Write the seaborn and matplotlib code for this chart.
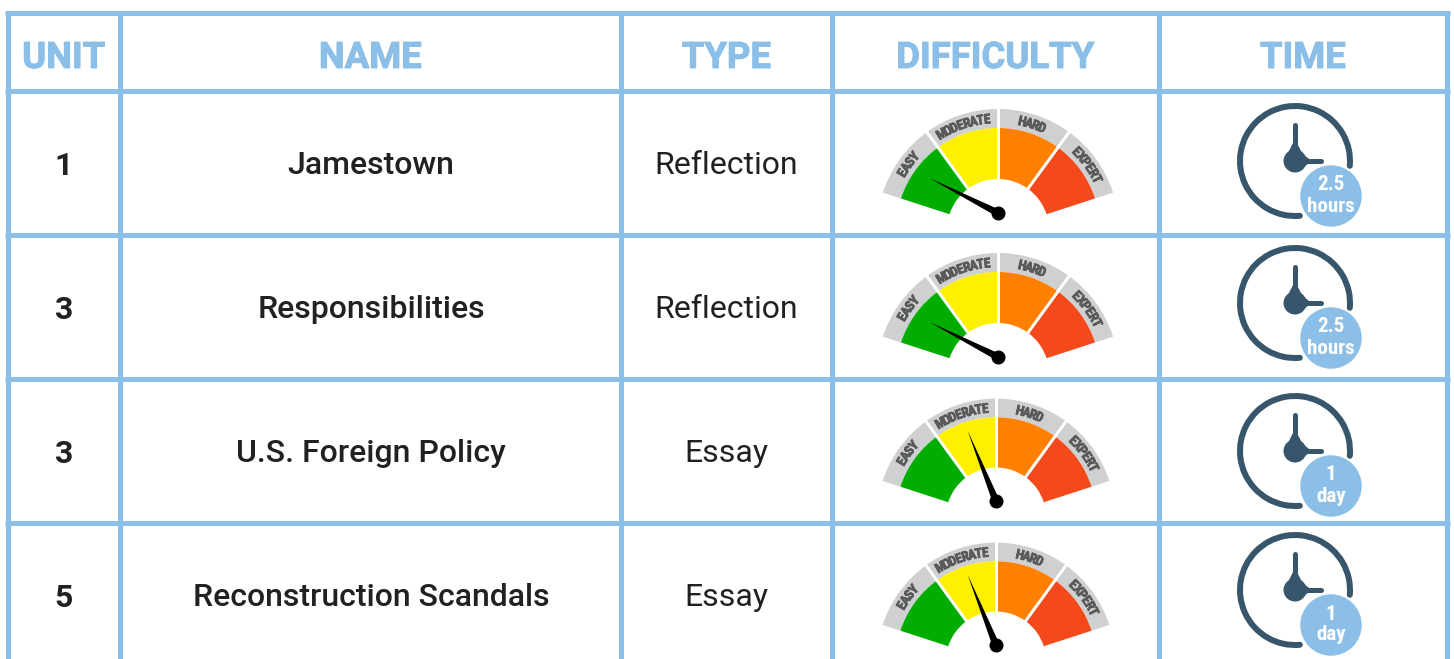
import numpy as np
import matplotlib
matplotlib.use("Agg")
import matplotlib.pyplot as plt
from matplotlib.patches import Wedge, Circle, Arc
from matplotlib import patheffects
import seaborn as sns

# table content
columns = ["UNIT", "NAME", "TYPE", "DIFFICULTY", "TIME"]
units = ["1", "3", "3", "5"]
names = ["Jamestown", "Responsibilities", "U.S. Foreign Policy", "Reconstruction Scandals"]
types = ["Reflection", "Reflection", "Essay", "Essay"]
difficulty = [0.25, 0.25, 1.39, 1.39]  # needle position, 0 = left end, 4 = right end
time_top = ["2.5", "2.5", "1", "1"]
time_bottom = ["hours", "hours", "day", "day"]
levels = ["EASY", "MODERATE", "HARD", "EXPERT"]
level_colors = ["#00AD00", "#FFF000", "#FF8000", "#F4491B"]

# layout, in pixels
col_lines = [7.5, 120, 621, 832, 1159, 1447]
row_lines = [12.5, 91, 235, 379, 523, 667]
header_y = 58
row_text_y = [166, 310, 454, 598]
gauge_x = [998, 998, 996, 996]
pivot_y = [213, 357, 501, 645]
gauge_scale = [1.0, 1.0, 0.985, 0.985]
clock_x = 1295
hub_y = [161, 303, 451, 590]

BLUE = "#8BBFE8"
SLATE = "#37556B"
GREY = "#CFD0D2"
INK = "#212121"
NARROW = ["Roboto Condensed", "Roboto"]

sns.set_theme(style="white")
plt.rcParams["font.family"] = ["Roboto", "DejaVu Sans"]

fig, ax = plt.subplots(figsize=(14.54, 6.59), dpi=100)
fig.subplots_adjust(0, 0, 1, 1)
ax.set_xlim(0, 1454)
ax.set_ylim(659, 0)
ax.axis("off")
PX = 72 / 100


def heavy(width, color):
    # thicker than the installed bold, as in the original
    return [patheffects.withStroke(linewidth=width * PX, foreground=color)]


def gauge(x, py, score, scale):
    # arc centre sits below the needle pivot
    cy = py + 17 * scale
    for i, (name, color) in enumerate(zip(levels, level_colors)):
        a1, a2 = -72 + 36 * i, -36 + 36 * i
        ax.add_patch(Wedge((x, cy), 121 * scale, a1 - 90, a2 - 90, width=19 * scale, fc=GREY, ec="none"))
        ax.add_patch(Wedge((x, cy), 102 * scale, a1 - 90, a2 - 90, width=51 * scale, fc=color, ec="none"))
        step = 3.55
        mid = (a1 + a2) / 2
        for j, ch in enumerate(name):
            a = mid + (j - (len(name) - 1) / 2) * step
            r = 111 * scale
            ax.text(x + r * np.sin(np.radians(a)), cy - r * np.cos(np.radians(a)), ch,
                    rotation=-a, rotation_mode="anchor", ha="center", va="center",
                    color="#58595B", fontsize=13.5 * PX, fontweight="bold", family=NARROW,
                    path_effects=heavy(0.7, "#58595B"))
    for a in [-36, 0, 36]:
        s, c = np.sin(np.radians(a)), np.cos(np.radians(a))
        ax.plot([x + 48 * s, x + 124 * scale * s], [cy - 48 * c, cy - 124 * scale * c],
                color="white", lw=3 * PX, solid_capstyle="butt")
    # needle
    ang = np.radians(-72 + 36 * score)
    s, c = np.sin(ang), np.cos(ang)
    length = 77 * scale
    ax.fill([x + length * s, x - 3.6 * c, x + 3.6 * c], [py - length * c, py - 3.6 * s, py + 3.6 * s],
            color="black", lw=0, zorder=5)


def clock(hy, top, bottom):
    x = clock_x
    ax.add_patch(Arc((x, hy), 110, 110, theta1=85, theta2=365, color=SLATE, lw=6 * PX, capstyle="round"))
    ax.plot([x, x], [hy, hy - 36], color=SLATE, lw=5 * PX, solid_capstyle="round")
    ax.plot([x, x + 26], [hy, hy], color=SLATE, lw=5 * PX, solid_capstyle="round")
    ax.fill([x - 8, x, x + 8], [hy - 6, hy - 22, hy - 6], color=SLATE, lw=0)
    ax.fill([x + 6, x + 17, x + 6], [hy - 8, hy, hy + 8], color=SLATE, lw=0)
    ax.add_patch(Circle((x, hy), 11.5, fc=SLATE, ec="none"))
    bx, by = x + 36, hy + 35
    ax.add_patch(Circle((bx, by), 31.5, fc=BLUE, ec="white", lw=1.5 * PX, zorder=3))
    for txt, dy, in [(top, -11), (bottom, 10)]:
        ax.text(bx, by + dy, txt, color="white", fontsize=21 * PX, fontweight="bold", ha="center",
                va="center", zorder=4, family=NARROW)


# grid
ax.vlines(col_lines, row_lines[0], row_lines[-1], color=BLUE, lw=5 * PX, zorder=2)
ax.hlines(row_lines, col_lines[0] - 2.5, col_lines[-1] + 2.5, color=BLUE, lw=5 * PX, zorder=2)

# header + text columns
centers = [(a + b) / 2 for a, b in zip(col_lines[:-1], col_lines[1:])]
for cx, label in zip(centers, columns):
    ax.text(cx, header_y, label, color=BLUE, fontsize=36.5 * PX, fontweight="bold", ha="center", va="center",
            path_effects=heavy(1, BLUE))

for i in range(4):
    y = row_text_y[i]
    ax.text(centers[0], y, units[i], color=INK, fontsize=32 * PX, fontweight="bold", ha="center", va="center")
    ax.text(centers[1] + 0.5, y, names[i], color=INK, fontsize=32 * PX, fontweight="medium", ha="center", va="center")
    ax.text(centers[2], y, types[i], color=INK, fontsize=32 * PX, ha="center", va="center")
    gauge(gauge_x[i], pivot_y[i], difficulty[i], gauge_scale[i])
    clock(hub_y[i], time_top[i], time_bottom[i])

# needle pivots
sns.scatterplot(x=gauge_x, y=pivot_y, s=(14 * PX) ** 2, color="black", linewidth=0, ax=ax, zorder=6, legend=False)
ax.set_xlim(0, 1454)
ax.set_ylim(659, 0)
ax.axis("off")

fig.savefig("out.png", dpi=100)
